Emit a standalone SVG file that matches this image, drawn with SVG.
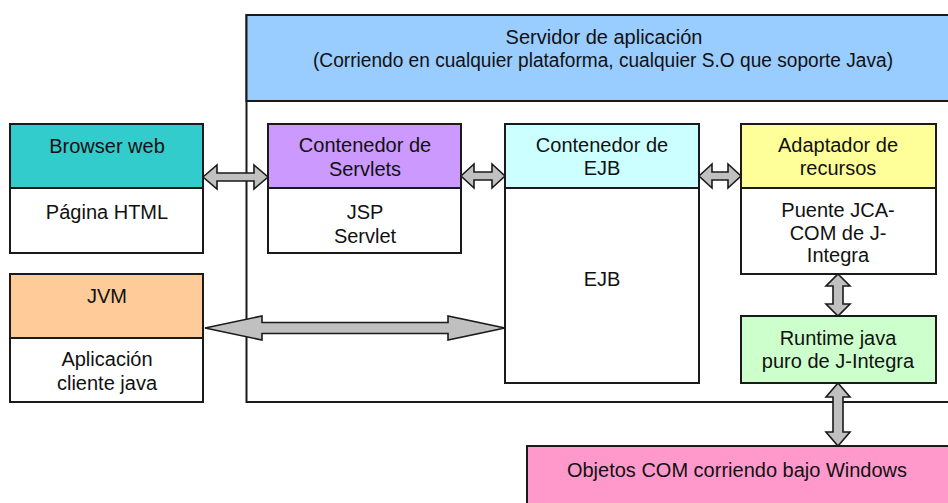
<svg xmlns="http://www.w3.org/2000/svg" width="948" height="503" viewBox="0 0 948 503">
<style>
.box{stroke:#1a1a1a;stroke-width:2}
.t{font-family:"Liberation Sans",Arial,sans-serif;font-size:20px;fill:#111;text-anchor:middle}
.arr{fill:#c0c0c0;stroke:#1a1a1a;stroke-width:1.6;stroke-linejoin:miter}
</style>
<rect width="948" height="503" fill="#ffffff"/>
<g id="servidor">
<rect class="box" x="246.5" y="15" width="710" height="387" fill="#ffffff"/>
<rect class="box" x="246.5" y="15" width="710" height="86" fill="#99ccff"/>
<text class="t" x="604" y="44">Servidor de aplicación</text>
<text class="t" x="603" y="67" textLength="580" lengthAdjust="spacingAndGlyphs">(Corriendo en cualquier plataforma, cualquier S.O que soporte Java)</text>
</g>
<g id="browser">
<rect class="box" x="10" y="124" width="193" height="129" fill="#ffffff"/>
<rect class="box" x="10" y="124" width="193" height="64" fill="#33cccc"/>
<text class="t" x="107" y="153">Browser web</text>
<text class="t" x="107" y="219">Página HTML</text>
</g>
<g id="jvm">
<rect class="box" x="10" y="274" width="193" height="128" fill="#ffffff"/>
<rect class="box" x="10" y="274" width="193" height="64" fill="#ffcc99"/>
<text class="t" x="107" y="303">JVM</text>
<text class="t" x="107" y="366">Aplicación</text>
<text class="t" x="107" y="390">cliente java</text>
</g>
<g id="servlets">
<rect class="box" x="268" y="124" width="193" height="129" fill="#ffffff"/>
<rect class="box" x="268" y="124" width="193" height="64" fill="#cc99ff"/>
<text class="t" x="365" y="152">Contenedor de</text>
<text class="t" x="365" y="176">Servlets</text>
<text class="t" x="365" y="219">JSP</text>
<text class="t" x="365" y="243">Servlet</text>
</g>
<g id="ejb">
<rect class="box" x="505" y="124" width="194" height="259" fill="#ffffff"/>
<rect class="box" x="505" y="124" width="194" height="64" fill="#ccffff"/>
<text class="t" x="602" y="152">Contenedor de</text>
<text class="t" x="602" y="175">EJB</text>
<text class="t" x="602" y="286">EJB</text>
</g>
<g id="adaptador">
<rect class="box" x="741" y="124" width="195" height="150" fill="#ffffff"/>
<rect class="box" x="741" y="124" width="195" height="64" fill="#ffff99"/>
<text class="t" x="838" y="152">Adaptador de</text>
<text class="t" x="838" y="175">recursos</text>
<text class="t" x="838" y="217">Puente JCA-</text>
<text class="t" x="838" y="240">COM de J-</text>
<text class="t" x="838" y="262">Integra</text>
</g>
<g id="runtime">
<rect class="box" x="741" y="316" width="195" height="67" fill="#ccffcc"/>
<text class="t" x="838" y="345">Runtime java</text>
<text class="t" x="838" y="368">puro de J-Integra</text>
</g>
<g id="com">
<rect class="box" x="527" y="446" width="430" height="70" fill="#ff99cc"/>
<text class="t" x="737" y="477">Objetos COM corriendo bajo Windows</text>
</g>
<g id="connectors">
<path class="arr" d="M203,177 L217,165 L217,173 L254,173 L254,165 L268,177 L254,189 L254,181 L217,181 L217,189 Z"/>
<path class="arr" d="M461,176 L474,164 L474,172 L492,172 L492,164 L505,176 L492,188 L492,180 L474,180 L474,188 Z"/>
<path class="arr" d="M699,176 L712,164 L712,172 L728,172 L728,164 L741,176 L728,188 L728,180 L712,180 L712,188 Z"/>
<path class="arr" d="M205,328 L262,316 L262,322.5 L448,322.5 L448,316 L505,328 L448,340 L448,333.5 L262,333.5 L262,340 Z"/>
<path class="arr" d="M838,274 L850,286 L843,286 L843,304 L850,304 L838,316 L826,304 L833,304 L833,286 L826,286 Z"/>
<path class="arr" d="M838,383 L850,397 L843,397 L843,432 L850,432 L838,446 L826,432 L833,432 L833,397 L826,397 Z"/>
</g>
</svg>
